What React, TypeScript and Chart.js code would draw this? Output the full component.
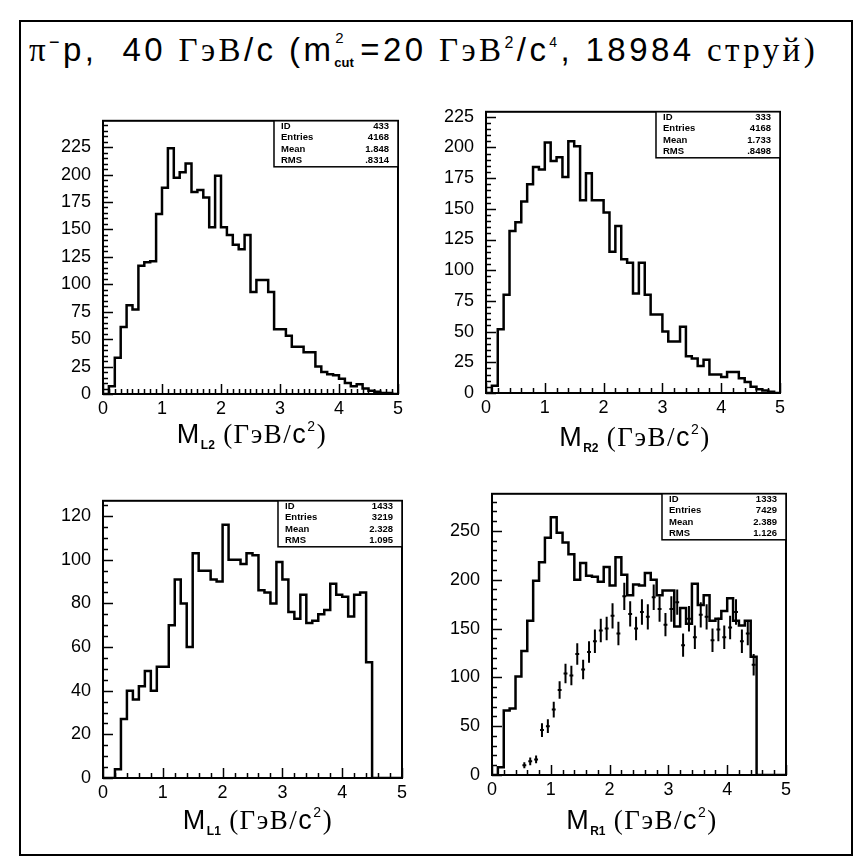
import React, { useEffect, useRef } from "react";
import { Chart, registerables } from "chart.js";

Chart.register(...registerables);

// ---------------- data ----------------
const X_MIN = 0;
const X_MAX = 5;
const BIN_WIDTH = 0.1;
const X_TICKS = [0, 1, 2, 3, 4, 5];

// M_L2
const ML2_COUNTS = [
  0, 7, 33, 61, 81, 77, 117, 120, 121, 164,
  188, 224, 197, 202, 210, 184, 186, 179, 152, 199,
  152, 145, 136, 132, 145, 93, 104, 104, 93, 59,
  59, 53, 43, 43, 38, 38, 25, 20, 18, 17,
  14, 10, 7, 9, 5, 3, 2, 1, 1, 0,
];
const ML2_Y_TICKS = [0, 25, 50, 75, 100, 125, 150, 175, 200, 225];
const ML2_STATS = ["433", "4168", "1.848", ".8314"];

// M_R2
const MR2_COUNTS = [
  0, 6, 52, 80, 132, 139, 156, 170, 184, 182,
  204, 189, 192, 176, 205, 201, 157, 179, 157, 157,
  147, 115, 136, 109, 106, 81, 106, 80, 64, 64,
  50, 42, 42, 54, 30, 28, 22, 27, 15, 15,
  13, 17, 17, 12, 9, 5, 3, 2, 1, 0,
];
const MR2_Y_TICKS = [0, 25, 50, 75, 100, 125, 150, 175, 200, 225];
const MR2_STATS = ["333", "4168", "1.733", ".8498"];

// M_L1
const ML1_COUNTS = [
  0, 0, 4, 27, 40, 36, 42, 49, 40, 51,
  51, 70, 91, 80, 60, 103, 95, 95, 91, 90,
  116, 100, 100, 98, 103, 102, 86, 85, 80, 99,
  91, 76, 73, 84, 71, 72, 75, 77, 89, 84,
  83, 74, 84, 85, 53, 0, 0, 0, 0, 0,
];
const ML1_Y_TICKS = [0, 20, 40, 60, 80, 100, 120];
const ML1_STATS = ["1433", "3219", "2.328", "1.095"];

// M_R1
const MR1_COUNTS = [
  0, 8, 66, 68, 101, 127, 158, 199, 218, 243,
  264, 248, 238, 226, 200, 217, 204, 203, 198, 213,
  194, 223, 205, 184, 195, 194, 207, 200, 184, 189,
  189, 152, 171, 155, 196, 174, 184, 158, 160, 168,
  181, 158, 153, 158, 121, 0, 0, 0, 0, 0,
];
const MR1_Y_TICKS = [0, 50, 100, 150, 200, 250];
const MR1_STATS = ["1333", "7429", "2.389", "1.126"];
// overlaid points with error bars (first point in bin 5)
const MR1_POINTS_FIRST_BIN = 5;
const MR1_POINTS = [
  10, 14, 16, 46, 50, 67, 87, 104, 102, 124,
  108, 126, 137, 148, 150, 163, 145, 183, 165, 150,
  167, 162, 182, 170, 154, 170, 177, 133, 160, 141,
  164, 162, 138, 149, 141, 151, 167, 137, 145, 113,
];
const MR1_ERRORS = [
  3, 4, 4, 7, 7, 8, 9, 10, 10, 11,
  10, 11, 12, 12, 12, 13, 12, 14, 13, 12,
  13, 13, 13, 13, 12, 13, 13, 12, 13, 12,
  13, 13, 12, 12, 12, 12, 13, 12, 12, 11,
];

const STAT_LABELS = ["ID", "Entries", "Mean", "RMS"];

// ---------------- layout ----------------
const SANS = '"Liberation Sans", Arial, sans-serif';
const SERIF = '"Liberation Serif", "DejaVu Serif", serif';
const Y_AXIS_W = 70;
const X_AXIS_H = 30;
const PAD_TOP = 6;
const PAD_RIGHT = 6;

type Panel = {
  counts: number[];
  yTicks: number[];
  yMax: number;
  yMinor: number;
  xMinor: number;
  stats: string[];
  frame: { left: number; top: number; width: number; height: number };
  points?: { first: number; values: number[]; errors: number[] };
};

const PANELS: Panel[] = [
  {
    counts: ML2_COUNTS, yTicks: ML2_Y_TICKS, yMax: 249, yMinor: 5, xMinor: 0.1, stats: ML2_STATS,
    frame: { left: 103, top: 104, width: 298, height: 290 },
  },
  {
    counts: MR2_COUNTS, yTicks: MR2_Y_TICKS, yMax: 229, yMinor: 5, xMinor: 0.2, stats: MR2_STATS,
    frame: { left: 486, top: 95, width: 297, height: 298 },
  },
  {
    counts: ML1_COUNTS, yTicks: ML1_Y_TICKS, yMax: 127, yMinor: 5, xMinor: 0.2, stats: ML1_STATS,
    frame: { left: 103, top: 484, width: 302, height: 294 },
  },
  {
    counts: MR1_COUNTS, yTicks: MR1_Y_TICKS, yMax: 288, yMinor: 10, xMinor: 0.2, stats: MR1_STATS,
    frame: { left: 492, top: 477, width: 297, height: 298 },
    points: { first: MR1_POINTS_FIRST_BIN, values: MR1_POINTS, errors: MR1_ERRORS },
  },
];

function makePlugin(p: Panel) {
  return {
    id: "pawDecor",
    afterDatasetsDraw(chart: any) {
      const { ctx, chartArea: a, scales } = chart;
      const xs = scales.x;
      const ys = scales.y;
      ctx.save();
      ctx.strokeStyle = "#000";
      ctx.fillStyle = "#000";

      // error-bar points
      if (p.points) {
        ctx.lineWidth = 2;
        p.points.values.forEach((v, i) => {
          const xc = (p.points!.first + i + 0.5) * BIN_WIDTH;
          const e = p.points!.errors[i];
          const px = xs.getPixelForValue(xc);
          const x0 = xs.getPixelForValue(xc - BIN_WIDTH / 2);
          const x1 = xs.getPixelForValue(xc + BIN_WIDTH / 2);
          const py = ys.getPixelForValue(v);
          const y0 = ys.getPixelForValue(v - e);
          const y1 = ys.getPixelForValue(v + e);
          ctx.beginPath();
          ctx.moveTo(px, y0);
          ctx.lineTo(px, y1);
          ctx.moveTo(x0 + 1, py);
          ctx.lineTo(x1 - 1, py);
          ctx.stroke();
        });
      }

      // frame
      ctx.lineWidth = 2;
      ctx.strokeRect(a.left, a.top, a.right - a.left, a.bottom - a.top);

      // y ticks (inside, on the left)
      ctx.lineWidth = 1.5;
      const nY = Math.floor(p.yMax / p.yMinor + 1e-9);
      const majorStep = p.yTicks[1] - p.yTicks[0];
      for (let k = 0; k <= nY; k++) {
        const v = k * p.yMinor;
        const y = Math.round(ys.getPixelForValue(v)) + 0.5;
        const major = Math.abs(v / majorStep - Math.round(v / majorStep)) < 1e-6;
        const len = major ? 10 : 5;
        ctx.beginPath();
        ctx.moveTo(a.left, y);
        ctx.lineTo(a.left + len, y);
        ctx.stroke();
      }
      // x ticks (inside, at the bottom)
      const nX = Math.round((X_MAX - X_MIN) / p.xMinor);
      for (let k = 0; k <= nX; k++) {
        const v = X_MIN + k * p.xMinor;
        const x = Math.round(xs.getPixelForValue(v)) + 0.5;
        const major = Math.abs(v - Math.round(v)) < 1e-6;
        const len = major ? 10 : 5;
        ctx.beginPath();
        ctx.moveTo(x, a.bottom);
        ctx.lineTo(x, a.bottom - len);
        ctx.stroke();
      }

      // statistics box
      const bw = 124;
      const bh = 46;
      const bx = a.right - bw;
      const by = a.top;
      ctx.fillStyle = "#fff";
      ctx.fillRect(bx, by, bw, bh);
      ctx.lineWidth = 1.5;
      ctx.strokeRect(bx, by, bw, bh);
      ctx.fillStyle = "#000";
      ctx.font = `bold 9.5px ${SANS}`;
      ctx.textBaseline = "middle";
      const rows = [5.5, 17, 28.5, 40];
      STAT_LABELS.forEach((lab, i) => {
        ctx.textAlign = "left";
        ctx.fillText(lab, bx + 7, by + rows[i]);
        ctx.textAlign = "right";
        ctx.fillText(p.stats[i], a.right - 9, by + rows[i]);
      });
      ctx.restore();
    },
  };
}

function HistChart({ panel }: { panel: Panel }) {
  const ref = useRef<HTMLCanvasElement | null>(null);
  const f = panel.frame;
  const cw = Y_AXIS_W + f.width + PAD_RIGHT;
  const ch = PAD_TOP + f.height + X_AXIS_H;
  useEffect(() => {
    if (!ref.current) return;
    const data = panel.counts.map((c, i) => ({ x: i * BIN_WIDTH, y: c }));
    data.push({ x: X_MAX, y: panel.counts[panel.counts.length - 1] });
    const tickFont = { family: SANS, size: 18 };
    const chart = new Chart(ref.current, {
      type: "line",
      data: {
        datasets: [
          {
            data,
            stepped: "before",
            borderColor: "#000",
            borderWidth: 2.5,
            pointRadius: 0,
            fill: false,
            tension: 0,
          } as any,
        ],
      },
      options: {
        animation: false,
        responsive: false,
        maintainAspectRatio: false,
        events: [],
        layout: { padding: { top: PAD_TOP, right: PAD_RIGHT, left: 0, bottom: 0 } },
        plugins: { legend: { display: false }, tooltip: { enabled: false }, title: { display: false } },
        scales: {
          x: {
            type: "linear",
            min: X_MIN,
            max: X_MAX,
            grid: { display: false, drawTicks: false },
            border: { display: false },
            afterBuildTicks: (s: any) => {
              s.ticks = X_TICKS.map((v) => ({ value: v }));
            },
            afterFit: (s: any) => {
              s.height = X_AXIS_H;
            },
            ticks: {
              font: tickFont,
              color: "#000",
              padding: 4,
              maxRotation: 0,
              autoSkip: false,
              callback: (v: any) => String(v),
            },
          },
          y: {
            type: "linear",
            min: 0,
            max: panel.yMax,
            grid: { display: false, drawTicks: false },
            border: { display: false },
            afterBuildTicks: (s: any) => {
              s.ticks = panel.yTicks.map((v) => ({ value: v }));
            },
            afterFit: (s: any) => {
              s.width = Y_AXIS_W;
            },
            ticks: {
              font: tickFont,
              color: "#000",
              padding: 12,
              autoSkip: false,
              callback: (v: any) => String(v),
            },
          },
        },
      } as any,
      plugins: [makePlugin(panel)],
    });
    return () => chart.destroy();
  }, [panel]);
  return (
    <canvas
      ref={ref}
      width={cw}
      height={ch}
      style={{
        position: "absolute",
        left: f.left - Y_AXIS_W,
        top: f.top - PAD_TOP,
        width: cw,
        height: ch,
      }}
    />
  );
}

function AxisTitle({ cx, cy, sub }: { cx: number; cy: number; sub: string }) {
  return (
    <div
      style={{
        position: "absolute",
        left: cx - 150,
        top: cy - 18,
        width: 300,
        height: 36,
        lineHeight: "36px",
        textAlign: "center",
        fontSize: 27,
        letterSpacing: "1.5px",
        color: "#000",
        whiteSpace: "nowrap",
      }}
    >
      <span style={{ fontFamily: SANS }}>M</span>
      <span style={{ fontFamily: SANS, fontWeight: "bold", fontSize: 12, letterSpacing: 0, position: "relative", top: 6 }}>{sub}</span>
      <span style={{ fontFamily: SERIF }}> (ГэВ/</span>
      <span style={{ fontFamily: SANS }}>c</span>
      <span style={{ fontFamily: SANS, fontSize: 14, position: "relative", top: -12 }}>2</span>
      <span style={{ fontFamily: SERIF }}>)</span>
    </div>
  );
}

export default function App() {
  return (
    <div
      style={{
        position: "absolute",
        left: 0,
        top: 0,
        width: 864,
        height: 861,
        background: "#fff",
        overflow: "hidden",
      }}
    >
      <div
        style={{
          position: "absolute",
          left: 19,
          top: 20,
          width: 830,
          height: 832,
          border: "2px solid #000",
        }}
      />
      <div
        style={{
          position: "absolute",
          left: 29,
          top: 29,
          height: 42,
          lineHeight: "42px",
          fontSize: 33,
          letterSpacing: "3.4px",
          color: "#000",
          whiteSpace: "nowrap",
        }}
      >
        <span style={{ fontFamily: SERIF }}>π</span>
        <span style={{ fontFamily: SANS, fontSize: 18, position: "relative", top: -13 }}>−</span>
        <span style={{ fontFamily: SANS }}>p,&nbsp;&nbsp;40 </span>
        <span style={{ fontFamily: SERIF }}>ГэВ</span>
        <span style={{ fontFamily: SANS }}>/c (m</span>
        <span style={{ display: "inline-block", position: "relative", width: 26, height: 20, verticalAlign: "middle" }}>
          <span style={{ position: "absolute", left: 1, top: -13, fontSize: 15, lineHeight: "15px", fontFamily: SANS, letterSpacing: 0 }}>2</span>
          <span style={{ position: "absolute", left: 0, top: 13, fontSize: 13, lineHeight: "13px", fontFamily: SANS, fontWeight: "bold", letterSpacing: 0 }}>cut</span>
        </span>
        <span style={{ fontFamily: SANS }}>=20 </span>
        <span style={{ fontFamily: SERIF }}>ГэВ</span>
        <span style={{ fontFamily: SANS, fontSize: 16, position: "relative", top: -13 }}>2</span>
        <span style={{ fontFamily: SANS }}>/c</span>
        <span style={{ fontFamily: SANS, fontSize: 14, position: "relative", top: -14 }}>4</span>
        <span style={{ fontFamily: SANS }}>, 18984 </span>
        <span style={{ fontFamily: SERIF }}>струй)</span>
      </div>

      {PANELS.map((p, i) => (
        <HistChart key={i} panel={p} />
      ))}

      <AxisTitle cx={252} cy={434} sub="L2" />
      <AxisTitle cx={635} cy={437} sub="R2" />
      <AxisTitle cx={258} cy={820} sub="L1" />
      <AxisTitle cx={642} cy={820} sub="R1" />
    </div>
  );
}
